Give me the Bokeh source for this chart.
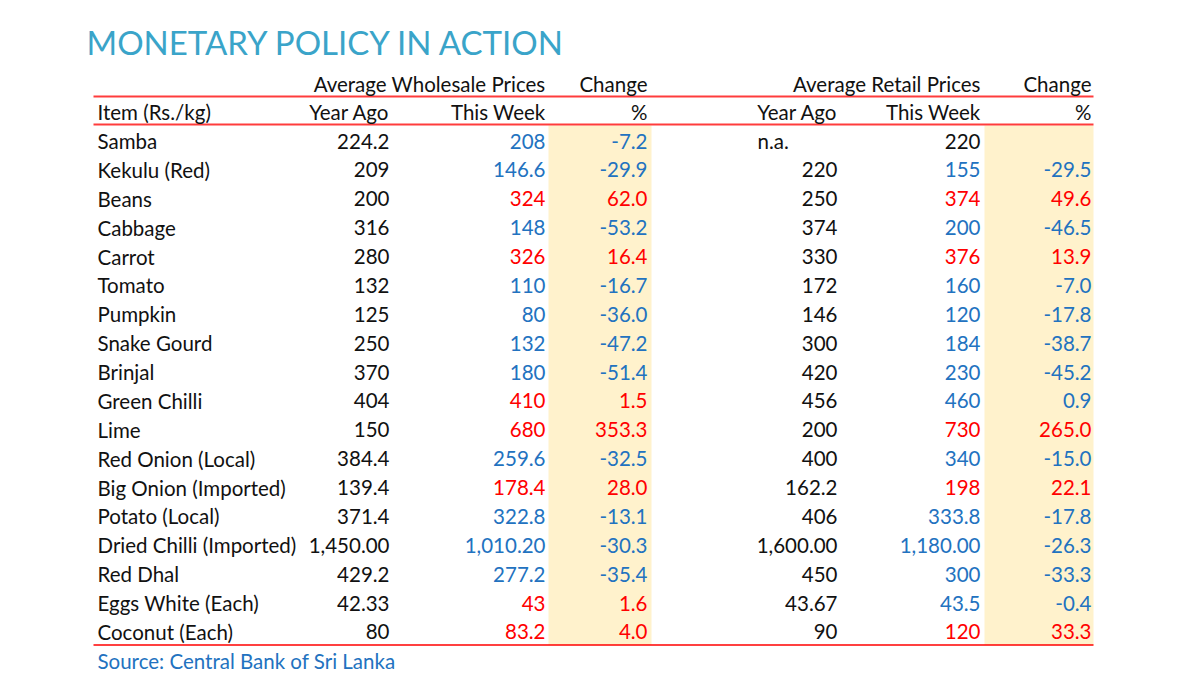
from bokeh.plotting import figure
from bokeh.models import Range1d
from bokeh.core.properties import value
from bokeh.embed import file_html
from bokeh.resources import INLINE

# ---------------- data ----------------
title = "MONETARY POLICY IN ACTION"
source_note = "Source: Central Bank of Sri Lanka"

items = ["Samba", "Kekulu (Red)", "Beans", "Cabbage", "Carrot", "Tomato", "Pumpkin",
         "Snake Gourd", "Brinjal", "Green Chilli", "Lime", "Red Onion (Local)",
         "Big Onion (Imported)", "Potato (Local)", "Dried Chilli (Imported)", "Red Dhal",
         "Eggs White (Each)", "Coconut (Each)"]

wholesale_year_ago = ["224.2", "209", "200", "316", "280", "132", "125", "250", "370", "404",
                      "150", "384.4", "139.4", "371.4", "1,450.00", "429.2", "42.33", "80"]
wholesale_this_week = ["208", "146.6", "324", "148", "326", "110", "80", "132", "180", "410",
                       "680", "259.6", "178.4", "322.8", "1,010.20", "277.2", "43", "83.2"]
wholesale_change = [-7.2, -29.9, 62.0, -53.2, 16.4, -16.7, -36.0, -47.2, -51.4, 1.5,
                    353.3, -32.5, 28.0, -13.1, -30.3, -35.4, 1.6, 4.0]
wholesale_trend = ["down", "down", "up", "down", "up", "down", "down", "down", "down", "up",
                   "up", "down", "up", "down", "down", "down", "up", "up"]

retail_year_ago = ["n.a.", "220", "250", "374", "330", "172", "146", "300", "420", "456",
                   "200", "400", "162.2", "406", "1,600.00", "450", "43.67", "90"]
retail_this_week = ["220", "155", "374", "200", "376", "160", "120", "184", "230", "460",
                    "730", "340", "198", "333.8", "1,180.00", "300", "43.5", "120"]
retail_change = [None, -29.5, 49.6, -46.5, 13.9, -7.0, -17.8, -38.7, -45.2, 0.9,
                 265.0, -15.0, 22.1, -17.8, -26.3, -33.3, -0.4, 33.3]
retail_trend = ["", "down", "up", "down", "up", "down", "down", "down", "down", "down",
                "up", "down", "up", "down", "down", "down", "down", "up"]

group_headers = ["Average Wholesale Prices", "Change", "Average Retail Prices", "Change"]
col_headers = ["Year Ago", "This Week", "%", "Year Ago", "This Week", "%"]
item_header = "Item (Rs./kg)"

# ---------------- layout / style ----------------
W, H = 1192, 677
FONT = value("Lato")
FS = value("20.5px")
BLUE = "#2272C0"
RED = "#FF0000"
BLACK = "#111111"
LINE_RED = "#FF1A1A"
SHADE = "#FFF2CC"
TREND_COLOR = {"up": RED, "down": BLUE, "": BLACK}

ROW0 = 140.5
ROWH = 28.88
n = len(items)
row_y = [ROW0 + ROWH * i for i in range(n)]

X_ITEM = 97
COL_RIGHT = [389, 545, 647, 837, 980, 1091]
X_NA = 757
HDR1_Y = 83
HDR2_Y = 111
LINE1_Y, LINE2_Y, LINE3_Y = 96, 124, 644.5
LINE_X0, LINE_X1 = 93, 1093

p = figure(width=W, height=H, x_range=Range1d(0, W), y_range=Range1d(H, 0),
           output_backend="svg", toolbar_location=None, min_border=0,
           x_axis_location=None, y_axis_location=None)
p.grid.visible = False
p.outline_line_color = None
p.background_fill_color = "white"
p.border_fill_color = "white"

# shaded change columns
p.quad(left=[548, 984], right=[651, 1093], top=[LINE2_Y + 1, LINE2_Y + 1],
       bottom=[LINE3_Y, LINE3_Y], fill_color=SHADE, line_color=None)

# rules
p.segment(x0=[LINE_X0, LINE_X0], x1=[LINE_X1, LINE_X1], y0=[LINE1_Y, LINE2_Y],
          y1=[LINE1_Y, LINE2_Y], line_color=LINE_RED, line_width=2, line_alpha=0.85)
p.segment(x0=[LINE_X0], x1=[LINE_X1], y0=[LINE3_Y], y1=[LINE3_Y],
          line_color=RED, line_width=1.3)

# title
p.text(x=[86], y=[41], text=[title], text_align="left", text_baseline="middle",
       text_font=value("Lato"), text_font_size=value("33px"), text_color="#3AA4C9")

# headers
p.text(x=[COL_RIGHT[1], COL_RIGHT[2], COL_RIGHT[4], COL_RIGHT[5]], y=[HDR1_Y] * 4,
       text=group_headers, text_align="right", text_baseline="middle",
       text_font=FONT, text_font_size=FS, text_color=BLACK)
p.text(x=[X_ITEM], y=[HDR2_Y], text=[item_header], text_align="left", text_baseline="middle",
       text_font=FONT, text_font_size=FS, text_color=BLACK)
p.text(x=COL_RIGHT, y=[HDR2_Y] * 6, text=col_headers, text_align="right",
       text_baseline="middle", text_font=FONT, text_font_size=FS, text_color=BLACK)

# item names
p.text(x=[X_ITEM] * n, y=row_y, text=items, text_align="left", text_baseline="middle",
       text_font=FONT, text_font_size=FS, text_color=BLACK)

# wholesale columns
p.text(x=[COL_RIGHT[0]] * n, y=row_y, text=wholesale_year_ago, text_align="right",
       text_baseline="middle", text_font=FONT, text_font_size=FS, text_color=BLACK)
wcol = [TREND_COLOR[t] for t in wholesale_trend]
p.text(x=[COL_RIGHT[1]] * n, y=row_y, text=wholesale_this_week, text_align="right",
       text_baseline="middle", text_font=FONT, text_font_size=FS, text_color=wcol)
p.text(x=[COL_RIGHT[2]] * n, y=row_y, text=[f"{v:.1f}" for v in wholesale_change],
       text_align="right", text_baseline="middle", text_font=FONT, text_font_size=FS,
       text_color=wcol)

# retail columns
idx_r = [i for i, v in enumerate(retail_year_ago) if v != "n.a."]
idx_l = [i for i, v in enumerate(retail_year_ago) if v == "n.a."]
p.text(x=[COL_RIGHT[3]] * len(idx_r), y=[row_y[i] for i in idx_r],
       text=[retail_year_ago[i] for i in idx_r], text_align="right", text_baseline="middle",
       text_font=FONT, text_font_size=FS, text_color=BLACK)
p.text(x=[X_NA] * len(idx_l), y=[row_y[i] for i in idx_l],
       text=[retail_year_ago[i] for i in idx_l], text_align="left", text_baseline="middle",
       text_font=FONT, text_font_size=FS, text_color=BLACK)
rcol = [TREND_COLOR[t] for t in retail_trend]
p.text(x=[COL_RIGHT[4]] * n, y=row_y, text=retail_this_week, text_align="right",
       text_baseline="middle", text_font=FONT, text_font_size=FS, text_color=rcol)
p.text(x=[COL_RIGHT[5]] * n, y=row_y,
       text=["" if v is None else f"{v:.1f}" for v in retail_change],
       text_align="right", text_baseline="middle", text_font=FONT, text_font_size=FS,
       text_color=rcol)

# source
p.text(x=[X_ITEM], y=[660], text=[source_note], text_align="left", text_baseline="middle",
       text_font=FONT, text_font_size=FS, text_color=BLUE)

open("out.html", "w").write(file_html(p, INLINE))
